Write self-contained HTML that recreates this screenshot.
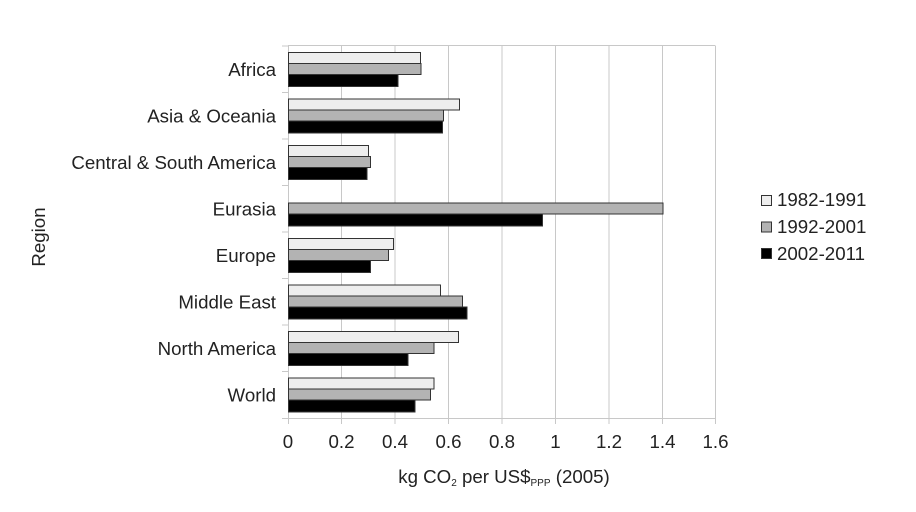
<!DOCTYPE html>
<html><head><meta charset="utf-8"><style>body{margin:0;background:#fff}svg{display:block}text{font-family:"Liberation Sans",sans-serif;fill:#222}</style></head><body>
<svg width="916" height="512" viewBox="0 0 916 512" xmlns="http://www.w3.org/2000/svg">
<g stroke="#c8c8c8" stroke-width="1">
<line x1="341.5" y1="46" x2="341.5" y2="424"/><line x1="395" y1="46" x2="395" y2="424"/><line x1="448.5" y1="46" x2="448.5" y2="424"/><line x1="502" y1="46" x2="502" y2="424"/><line x1="555.5" y1="46" x2="555.5" y2="424"/><line x1="609" y1="46" x2="609" y2="424"/><line x1="662.5" y1="46" x2="662.5" y2="424"/><line x1="715.5" y1="46" x2="715.5" y2="424"/>
<line x1="288" y1="45.5" x2="715.5" y2="45.5"/><line x1="282" y1="418.5" x2="715.5" y2="418.5"/><line x1="288.5" y1="46" x2="288.5" y2="424"/>
<line x1="282" y1="92.5" x2="288" y2="92.5"/><line x1="282" y1="139" x2="288" y2="139"/><line x1="282" y1="185.5" x2="288" y2="185.5"/><line x1="282" y1="232" x2="288" y2="232"/><line x1="282" y1="278.5" x2="288" y2="278.5"/><line x1="282" y1="325" x2="288" y2="325"/><line x1="282" y1="371.5" x2="288" y2="371.5"/><line x1="282" y1="46" x2="288" y2="46"/>
</g>
<g stroke="#333" stroke-width="1">
<rect x="288.5" y="52.5" width="132" height="11" fill="#eee"/><rect x="288.5" y="63.5" width="132.5" height="11" fill="#b3b3b3"/><rect x="288.5" y="74.5" width="109.5" height="12" fill="#000"/>
<rect x="288.5" y="99" width="171" height="11" fill="#eee"/><rect x="288.5" y="110" width="155" height="11" fill="#b3b3b3"/><rect x="288.5" y="121" width="154" height="12" fill="#000"/>
<rect x="288.5" y="145.5" width="80" height="11" fill="#eee"/><rect x="288.5" y="156.5" width="82" height="11" fill="#b3b3b3"/><rect x="288.5" y="167.5" width="78.5" height="12" fill="#000"/>
<rect x="288.5" y="203" width="374.5" height="11" fill="#b3b3b3"/><rect x="288.5" y="214" width="254" height="12" fill="#000"/>
<rect x="288.5" y="238.5" width="105" height="11" fill="#eee"/><rect x="288.5" y="249.5" width="100" height="11" fill="#b3b3b3"/><rect x="288.5" y="260.5" width="82" height="12" fill="#000"/>
<rect x="288.5" y="285" width="152" height="11" fill="#eee"/><rect x="288.5" y="296" width="174" height="11" fill="#b3b3b3"/><rect x="288.5" y="307" width="178.5" height="12" fill="#000"/>
<rect x="288.5" y="331.5" width="170" height="11" fill="#eee"/><rect x="288.5" y="342.5" width="145.5" height="11" fill="#b3b3b3"/><rect x="288.5" y="353.5" width="119.5" height="12" fill="#000"/>
<rect x="288.5" y="378" width="145.5" height="11" fill="#eee"/><rect x="288.5" y="389" width="142" height="11" fill="#b3b3b3"/><rect x="288.5" y="400" width="126.5" height="12" fill="#000"/>
</g>
<g font-size="18.7" text-anchor="end">
<text x="276" y="76">Africa</text><text x="276" y="122.5">Asia &amp; Oceania</text><text x="276" y="169">Central &amp; South America</text><text x="276" y="215.5">Eurasia</text><text x="276" y="262">Europe</text><text x="276" y="308.5">Middle East</text><text x="276" y="355">North America</text><text x="276" y="401.5">World</text>
</g>
<g font-size="18.7" text-anchor="middle">
<text x="288" y="448">0</text><text x="341.5" y="448">0.2</text><text x="395" y="448">0.4</text><text x="448.5" y="448">0.6</text><text x="502" y="448">0.8</text><text x="555.5" y="448">1</text><text x="609" y="448">1.2</text><text x="662.5" y="448">1.4</text><text x="715.5" y="448">1.6</text>
</g>
<text x="45" y="237" font-size="18.7" text-anchor="middle" transform="rotate(-90 45 237)">Region</text>
<text x="504" y="483" font-size="18.7" text-anchor="middle">kg CO<tspan font-size="10" dy="3">2</tspan><tspan dy="-3"> per US$</tspan><tspan font-size="10" dy="3">PPP</tspan><tspan dy="-3"> (2005)</tspan></text>
<g stroke="#333" stroke-width="1">
<rect x="761.5" y="195.5" width="10" height="10" fill="#eee"/><rect x="761.5" y="222" width="10" height="10" fill="#b3b3b3"/><rect x="761.5" y="248.5" width="10" height="10" fill="#000"/>
</g>
<g font-size="18.7"><text x="777" y="206">1982-1991</text><text x="777" y="233">1992-2001</text><text x="777" y="260">2002-2011</text></g>
</svg>
</body></html>
